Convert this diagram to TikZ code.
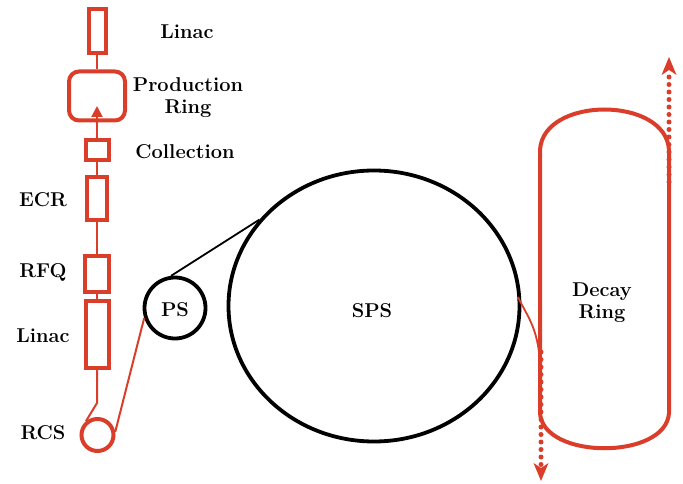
\documentclass[tikz,border=0pt]{standalone}
\usetikzlibrary{arrows.meta,shapes.geometric}
\definecolor{accred}{RGB}{218,62,42}
\begin{document}
\begin{tikzpicture}[x=1pt,y=-1pt,
  rbox/.style={draw=accred,line width=4pt,rectangle,inner sep=0pt},
  rline/.style={draw=accred,line width=2pt},
  bring/.style={draw=black,line width=3.8pt},
  lbl/.style={font=\bfseries\fontsize{20}{22}\selectfont,align=center,inner sep=0pt},
  dotarrow/.style={draw=accred,line width=5pt,line cap=round,dash pattern=on 0pt off 7.5pt,
     -{Stealth[length=18pt,width=15pt,inset=5pt,line cap=butt,line width=0pt]}}]
\useasboundingbox (0,0) rectangle (683,484);
% left column
\node[rbox,minimum width=17pt,minimum height=44pt] (lin1) at (97,31) {};
\node[rbox,rounded corners=10pt,minimum width=56pt,minimum height=49pt] (prod) at (97,96) {};
\node[rbox,minimum width=23pt,minimum height=20pt] (coll) at (97,150) {};
\node[rbox,minimum width=20pt,minimum height=42pt] (ecr) at (97,198.5) {};
\node[rbox,minimum width=24pt,minimum height=36pt] (rfq) at (97,273.5) {};
\node[rbox,minimum width=23pt,minimum height=67pt] (lin2) at (97,334) {};
\node[draw=accred,line width=4pt,circle,minimum size=32pt,inner sep=0pt] (rcs) at (97.5,435) {};
\coordinate (bend) at (97,403);
\coordinate (arrtip) at (97,106);
\draw[rline] (lin1.south) -- (prod.north);
\draw[rline,-{Triangle[length=11pt,width=11pt]}] (coll.north) -- (arrtip);
\draw[rline] (coll.south) -- (ecr.north);
\draw[rline] (ecr.south) -- (rfq.north);
\draw[rline] (rfq.south) -- (lin2.north);
\draw[rline] (lin2.south) -- (bend) -- (rcs.130);
% labels
\node[lbl] (tlin1) at (187,32) {Linac};
\node[lbl] (tprod) at (188,98) {Production\\Ring};
\node[lbl] (tcoll) at (185,152) {Collection};
\node[lbl] (tecr) at (43,200) {ECR};
\node[lbl] (trfq) at (43,272) {RFQ};
\node[lbl] (tlin2) at (43,336) {Linac};
\node[lbl] (trcs) at (43,433) {RCS};
% PS and SPS
\node[bring,circle,minimum size=61pt,inner sep=0pt] (ps) at (175,308) {};
\node[lbl] (tps) at (175,310) {PS};
\node[bring,ellipse,minimum width=291pt,minimum height=271pt,inner sep=0pt] (sps) at (374,306) {};
\node[lbl] (tsps) at (372,311) {SPS};
\draw[line width=1.8pt] (ps.97) -- (sps.143);
\draw[rline] (rcs.10) -- (ps.198);
% decay ring
\draw[draw=accred,line width=4pt] (540,150) .. controls (543,96) and (666,96) .. (669,150)
  -- (669,413) .. controls (666,460) and (543,460) .. (540,413) -- cycle;
\node[lbl] (tdecay) at (602,303) {Decay\\Ring};
\coordinate (spsout) at (518,297);
\coordinate (join) at (540,372);
\draw[rline,line width=1.8pt] (spsout) .. controls (528,318) and (540,330) .. (join);
\coordinate (upstart) at (669,182);
\coordinate (uptip) at (669,57);
\draw[dotarrow] (upstart) -- (uptip);
\coordinate (dnstart) at (541,352);
\coordinate (dntip) at (541,481);
\draw[dotarrow] (dnstart) -- (dntip);
\end{tikzpicture}
\end{document}
